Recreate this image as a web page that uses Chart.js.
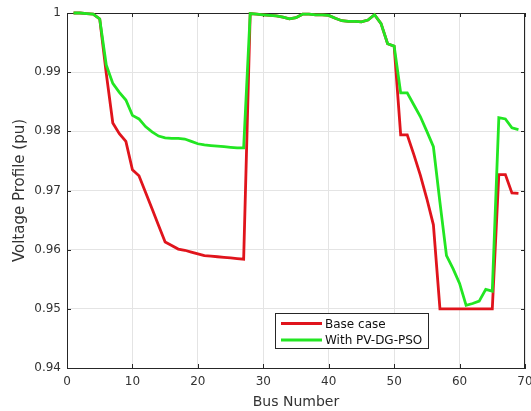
<!DOCTYPE html>
<html><head><meta charset="utf-8">
<script src="https://cdn.jsdelivr.net/npm/chart.js@4.4.1/dist/chart.umd.min.js"></script>
<style>html,body{margin:0;padding:0;background:#fff;overflow:hidden}#wrap{width:531px;height:411px;position:relative}</style>
</head><body><div id="wrap"><canvas id="c" width="531" height="411"></canvas></div>
<script>
const busNumbers = [1,2,3,4,5,6,7,8,9,10,11,12,13,14,15,16,17,18,19,20,21,22,23,24,25,26,27,28,29,30,31,32,33,34,35,36,37,38,39,40,41,42,43,44,45,46,47,48,49,50,51,52,53,54,55,56,57,58,59,60,61,62,63,64,65,66,67,68,69];
const baseCase = [1.0000,1.0000,0.9999,0.9998,0.9990,0.9898,0.9814,0.9796,0.9783,0.9735,0.9725,0.9697,0.9669,0.9641,0.9613,0.9607,0.9601,0.9599,0.9596,0.9593,0.9590,0.9589,0.9588,0.9587,0.9586,0.9585,0.9584,0.9999,0.9998,0.9997,0.9996,0.9995,0.9993,0.9990,0.9992,0.9998,0.9998,0.9997,0.9997,0.9996,0.9991,0.9987,0.9986,0.9986,0.9985,0.9988,0.9997,0.9982,0.9948,0.9944,0.9794,0.9794,0.9761,0.9726,0.9686,0.9642,0.9500,0.9500,0.9500,0.9500,0.9500,0.9500,0.9500,0.9500,0.9500,0.9727,0.9727,0.9696,0.9695];
const withPvDgPso = [1.0000,1.0000,0.9999,0.9998,0.9990,0.9912,0.9881,0.9866,0.9853,0.9827,0.9821,0.9808,0.9799,0.9792,0.9789,0.9788,0.9788,0.9787,0.9783,0.9779,0.9777,0.9776,0.9775,0.9774,0.9773,0.9772,0.9772,0.9999,0.9998,0.9997,0.9996,0.9995,0.9993,0.9990,0.9992,0.9998,0.9998,0.9997,0.9997,0.9996,0.9991,0.9987,0.9986,0.9986,0.9985,0.9988,0.9997,0.9982,0.9948,0.9944,0.9865,0.9865,0.9845,0.9825,0.9800,0.9774,0.9680,0.9590,0.9568,0.9543,0.9506,0.9509,0.9513,0.9533,0.9530,0.9823,0.9821,0.9806,0.9803];
const seriesLabels = ['Base case', 'With PV-DG-PSO'];
const xTickStep = 10, yTickStep = 0.01;

const FONT = 'DejaVu Sans';
const TXT = '#333333';
const AX = '#262626';
const RED = '#e0141c';
const GREEN = '#22e622';

const boxPlugin = {
  id: 'boxPlugin',
  beforeDatasetsDraw(chart) {
    const {ctx, chartArea: a, scales: {x, y}} = chart;
    ctx.save();
    ctx.strokeStyle = AX;
    ctx.lineWidth = 1;
    ctx.beginPath();
    ctx.moveTo(a.left, a.top + 0.5); ctx.lineTo(a.right, a.top + 0.5);
    ctx.moveTo(a.right - 0.5, a.top); ctx.lineTo(a.right - 0.5, a.bottom);
    const tl = 4;
    x.ticks.forEach(t => {
      const px = Math.round(x.getPixelForValue(t.value)) + 0.5;
      ctx.moveTo(px, a.bottom); ctx.lineTo(px, a.bottom - tl);
      ctx.moveTo(px, a.top); ctx.lineTo(px, a.top + tl);
    });
    y.ticks.forEach(t => {
      const py = Math.round(y.getPixelForValue(t.value)) + 0.5;
      ctx.moveTo(a.left, py); ctx.lineTo(a.left + tl, py);
      ctx.moveTo(a.right, py); ctx.lineTo(a.right - tl, py);
    });
    ctx.stroke();
    ctx.restore();
  }
};

const legendPlugin = {
  id: 'boxLegend',
  afterDraw(chart) {
    const {ctx, chartArea: a} = chart;
    const bx = a.left + 208, by = a.top + 300, bw = 154, bh = 36;
    ctx.save();
    ctx.fillStyle = '#ffffff';
    ctx.fillRect(bx, by, bw, bh);
    ctx.strokeStyle = AX;
    ctx.lineWidth = 1;
    ctx.strokeRect(bx + 0.5, by + 0.5, bw - 1, bh - 1);
    ctx.font = '12px "' + FONT + '"';
    ctx.textBaseline = 'middle';
    ctx.textAlign = 'left';
    chart.data.datasets.forEach((ds, i) => {
      const yy = by + 10.5 + i * 16.5;
      ctx.strokeStyle = ds.borderColor;
      ctx.lineWidth = 2.8;
      ctx.beginPath();
      ctx.moveTo(bx + 6, yy); ctx.lineTo(bx + 47, yy);
      ctx.stroke();
      ctx.fillStyle = '#111111';
      ctx.fillText(ds.label, bx + 50, yy + 1);
    });
    ctx.restore();
  }
};

new Chart(document.getElementById('c').getContext('2d'), {
  type: 'line',
  data: {
    datasets: [
      {label: seriesLabels[0], data: busNumbers.map((b, i) => ({x: b, y: baseCase[i]})),
       borderColor: RED, backgroundColor: RED, borderWidth: 2.8, pointRadius: 0, tension: 0, fill: false, order: 1, clip: 3},
      {label: seriesLabels[1], data: busNumbers.map((b, i) => ({x: b, y: withPvDgPso[i]})),
       borderColor: GREEN, backgroundColor: GREEN, borderWidth: 2.8, pointRadius: 0, tension: 0, fill: false, order: 0, clip: 3}
    ]
  },
  options: {
    responsive: false, animation: false, devicePixelRatio: 1,
    layout: {padding: {top: 13, right: 6, left: 0, bottom: 0}},
    plugins: {legend: {display: false}, tooltip: {enabled: false}},
    scales: {
      x: {
        type: 'linear', min: 0, max: 70,
        ticks: {stepSize: xTickStep, color: TXT, font: {family: FONT, size: 12}, padding: 7, maxRotation: 0, autoSkip: false},
        grid: {color: '#e4e4e4', drawTicks: false},
        border: {color: AX, width: 1},
        title: {display: true, text: 'Bus Number', color: TXT, font: {family: FONT, size: 14}, padding: {top: 0, bottom: 0}},
        afterFit(s) { s.height = 43; s.paddingLeft = 0; s.paddingRight = 0; }
      },
      y: {
        type: 'linear', min: 0.94, max: 1,
        ticks: {stepSize: yTickStep, color: TXT, font: {family: FONT, size: 12}, padding: 6,
          callback: v => Math.abs(v - 1) < 1e-9 ? '1' : v.toFixed(2)},
        grid: {color: '#e4e4e4', drawTicks: false},
        border: {color: AX, width: 1},
        title: {display: true, text: 'Voltage Profile (pu)', color: TXT, font: {family: FONT, size: 15}, padding: {top: 11, bottom: 0}},
        afterFit(s) { s.width = 67; s.paddingTop = 0; s.paddingBottom = 0; }
      }
    }
  },
  plugins: [boxPlugin, legendPlugin]
});
</script>
</body></html>
